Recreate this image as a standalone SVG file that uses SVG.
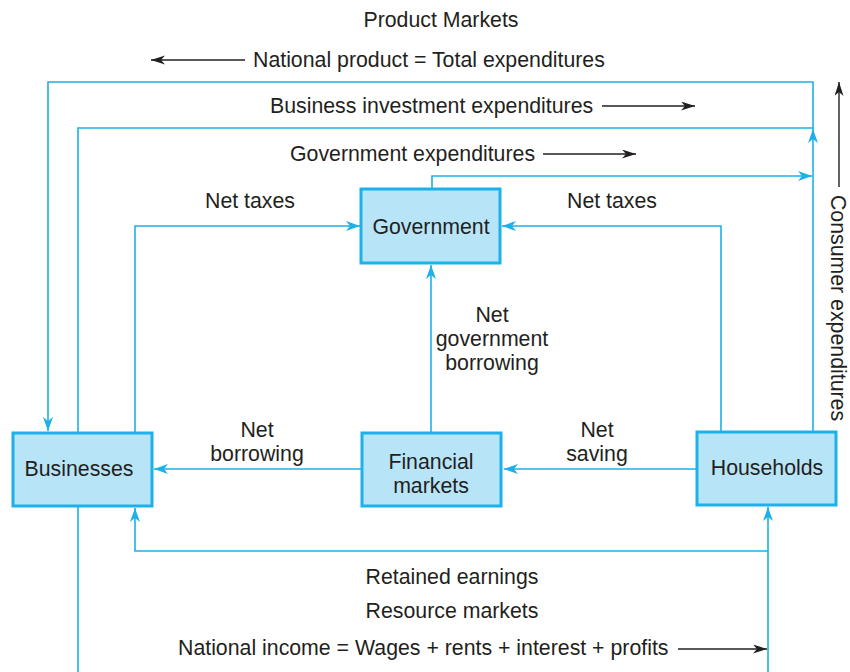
<svg xmlns="http://www.w3.org/2000/svg" width="850" height="672" viewBox="0 0 850 672">
<style>
.box{fill:#b8e4f8;stroke:#1cb1e8;stroke-width:3}
.c{fill:none;stroke:#1cb1e8;stroke-width:1.6}
.k{fill:none;stroke:#231f20;stroke-width:1.4}
text{font-family:"Liberation Sans",Arial,sans-serif;font-size:21.3px;fill:#231f20}
.m{text-anchor:middle}
</style>
<defs>
<marker id="ac" markerUnits="userSpaceOnUse" markerWidth="16" markerHeight="12" refX="14" refY="5" orient="auto">
<path d="M0,0 L14,5 L0,10 L4,5 z" fill="#1cb1e8"/>
</marker>
<marker id="ak" markerUnits="userSpaceOnUse" markerWidth="16" markerHeight="12" refX="14" refY="4.5" orient="auto">
<path d="M0,0 L14,4.5 L0,9 L4,4.5 z" fill="#231f20"/>
</marker>
</defs>
<rect width="850" height="672" fill="#fff"/>
<g id="connectors">
<path class="c" d="M813,432 V129" marker-end="url(#ac)"/>
<path class="c" d="M813,129 V82 H48 V431" marker-end="url(#ac)"/>
<path class="c" d="M78,432 V128 H813"/>
<path class="c" d="M432,189 V176 H812" marker-end="url(#ac)"/>
<path class="c" d="M135,432 V226 H360" marker-end="url(#ac)"/>
<path class="c" d="M721,432 V226 H502" marker-end="url(#ac)"/>
<path class="c" d="M431,432 V265" marker-end="url(#ac)"/>
<path class="c" d="M362,469 H154" marker-end="url(#ac)"/>
<path class="c" d="M697,469 H504" marker-end="url(#ac)"/>
<path class="c" d="M768,551 H135 V508" marker-end="url(#ac)"/>
<path class="c" d="M768,672 V507" marker-end="url(#ac)"/>
<path class="c" d="M78,506 V672"/>
<path class="k" d="M245,60 H151" marker-end="url(#ak)"/>
<path class="k" d="M602,106 H695" marker-end="url(#ak)"/>
<path class="k" d="M543,154 H636" marker-end="url(#ak)"/>
<path class="k" d="M678,649 H767" marker-end="url(#ak)"/>
<path class="k" d="M839,187 V82" marker-end="url(#ak)"/>
</g>
<g id="labels">
<text class="m" x="441" y="27">Product Markets</text>
<text x="253" y="67">National product = Total expenditures</text>
<text x="270" y="113">Business investment expenditures</text>
<text x="290" y="161">Government expenditures</text>
<text class="m" x="250" y="208">Net taxes</text>
<text class="m" x="612" y="208">Net taxes</text>
<text class="m" x="492" y="322">Net</text>
<text class="m" x="492" y="346">government</text>
<text class="m" x="492" y="370">borrowing</text>
<text class="m" x="257" y="437">Net</text>
<text class="m" x="257" y="461">borrowing</text>
<text class="m" x="597" y="437">Net</text>
<text class="m" x="597" y="461">saving</text>
<text class="m" x="452" y="584">Retained earnings</text>
<text class="m" x="452" y="618">Resource markets</text>
<text x="178" y="655">National income = Wages + rents + interest + profits</text>
<text class="m" transform="translate(831,308) rotate(90)">Consumer expenditures</text>
</g>
<g id="businesses">
<rect class="box" x="13" y="433" width="139" height="73"/>
<text class="m" x="79" y="476">Businesses</text>
</g>
<g id="government">
<rect class="box" x="361" y="189" width="139" height="74"/>
<text class="m" x="431" y="234">Government</text>
</g>
<g id="financial-markets">
<rect class="box" x="362" y="433" width="139" height="73"/>
<text class="m" x="431" y="469">Financial</text>
<text class="m" x="431" y="493">markets</text>
</g>
<g id="households">
<rect class="box" x="697" y="432" width="139" height="73"/>
<text class="m" x="767" y="475">Households</text>
</g>
</svg>
